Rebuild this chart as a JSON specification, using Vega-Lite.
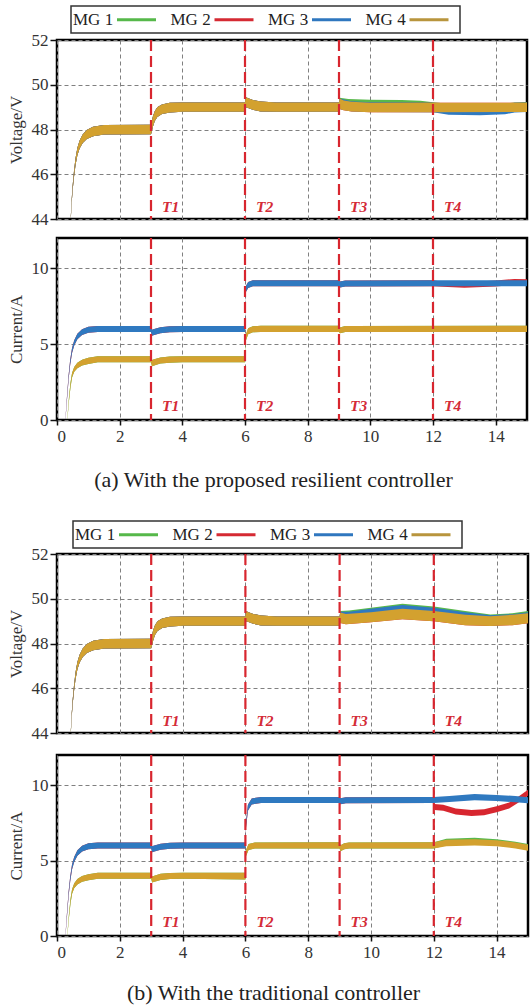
{
"$schema": "https://vega.github.io/schema/vega-lite/v6.json",
"background": "white",
"padding": {"left": 5, "top": 4, "right": 0, "bottom": 0},
"config": {
  "font": "Liberation Serif",
  "view": {"stroke": "#000", "strokeWidth": 2.5},
  "axis": {"domain": false, "grid": true, "gridColor": "#808080", "gridDash": [4, 3], "gridWidth": 1, "tickColor": "#111", "tickWidth": 1.5, "labelFont": "Liberation Serif", "labelFontSize": 17, "labelColor": "#333", "titleFont": "Liberation Serif", "titleFontSize": 17, "titleFontWeight": "normal", "titleColor": "#333"},
  "axisX": {"tickSize": 5, "labelPadding": 3},
  "axisY": {"tickSize": 7, "labelPadding": 2, "titlePadding": 6},
  "legend": {"orient": "none", "direction": "horizontal", "columns": 4, "symbolType": "M-3,0H3", "symbolSize": 169, "symbolStrokeWidth": 3, "symbolOffset": 52, "labelOffset": -72, "columnPadding": 8.5, "padding": 5, "strokeColor": "#333", "fillColor": "#fff", "labelFont": "Liberation Serif", "labelFontSize": 17, "labelColor": "#222"}
},
"datasets": {
"va": [
{"s":"MG 1","t":0.44,"lo":44.0,"hi":44.1},{"s":"MG 1","t":0.47,"lo":44.75,"hi":44.9},{"s":"MG 1","t":0.5,"lo":45.3,"hi":45.5},{"s":"MG 1","t":0.54,"lo":45.85,"hi":46.1},{"s":"MG 1","t":0.59,"lo":46.4,"hi":46.7},{"s":"MG 1","t":0.65,"lo":46.85,"hi":47.17},{"s":"MG 1","t":0.72,"lo":47.15,"hi":47.5},{"s":"MG 1","t":0.82,"lo":47.4,"hi":47.78},{"s":"MG 1","t":0.95,"lo":47.58,"hi":47.98},{"s":"MG 1","t":1.15,"lo":47.7,"hi":48.12},{"s":"MG 1","t":1.5,"lo":47.78,"hi":48.2},{"s":"MG 1","t":3.0,"lo":47.79,"hi":48.21},{"s":"MG 1","t":3.02,"lo":47.88,"hi":48.32},{"s":"MG 1","t":3.06,"lo":48.12,"hi":48.58},{"s":"MG 1","t":3.12,"lo":48.38,"hi":48.82},{"s":"MG 1","t":3.2,"lo":48.56,"hi":49.0},{"s":"MG 1","t":3.35,"lo":48.69,"hi":49.12},{"s":"MG 1","t":3.6,"lo":48.76,"hi":49.19},{"s":"MG 1","t":4.0,"lo":48.79,"hi":49.21},{"s":"MG 1","t":6.0,"lo":48.79,"hi":49.21},{"s":"MG 1","t":6.02,"lo":49.0,"hi":49.45},{"s":"MG 1","t":6.1,"lo":48.96,"hi":49.4},{"s":"MG 1","t":6.25,"lo":48.88,"hi":49.32},{"s":"MG 1","t":6.5,"lo":48.81,"hi":49.25},{"s":"MG 1","t":7.0,"lo":48.79,"hi":49.21},{"s":"MG 1","t":9.0,"lo":48.79,"hi":49.21},
{"s":"MG 1","t":9.02,"lo":48.98,"hi":49.42},{"s":"MG 1","t":9.3,"lo":48.92,"hi":49.36},{"s":"MG 1","t":10.0,"lo":48.9,"hi":49.33},{"s":"MG 1","t":11.0,"lo":48.88,"hi":49.32},{"s":"MG 1","t":11.6,"lo":48.84,"hi":49.28},{"s":"MG 1","t":12.0,"lo":48.8,"hi":49.22},{"s":"MG 1","t":12.5,"lo":48.7,"hi":49.15},{"s":"MG 1","t":13.5,"lo":48.68,"hi":49.12},{"s":"MG 1","t":14.3,"lo":48.72,"hi":49.15},{"s":"MG 1","t":14.6,"lo":48.78,"hi":49.21},{"s":"MG 1","t":15.0,"lo":48.79,"hi":49.23},
{"s":"MG 2","t":0.44,"lo":44.0,"hi":44.1},{"s":"MG 2","t":0.47,"lo":44.75,"hi":44.9},{"s":"MG 2","t":0.5,"lo":45.3,"hi":45.5},{"s":"MG 2","t":0.54,"lo":45.85,"hi":46.1},{"s":"MG 2","t":0.59,"lo":46.4,"hi":46.7},{"s":"MG 2","t":0.65,"lo":46.85,"hi":47.17},{"s":"MG 2","t":0.72,"lo":47.15,"hi":47.5},{"s":"MG 2","t":0.82,"lo":47.4,"hi":47.78},{"s":"MG 2","t":0.95,"lo":47.58,"hi":47.98},{"s":"MG 2","t":1.15,"lo":47.7,"hi":48.12},{"s":"MG 2","t":1.5,"lo":47.78,"hi":48.2},{"s":"MG 2","t":3.0,"lo":47.79,"hi":48.21},{"s":"MG 2","t":3.02,"lo":47.88,"hi":48.32},{"s":"MG 2","t":3.06,"lo":48.12,"hi":48.58},{"s":"MG 2","t":3.12,"lo":48.38,"hi":48.82},{"s":"MG 2","t":3.2,"lo":48.56,"hi":49.0},{"s":"MG 2","t":3.35,"lo":48.69,"hi":49.12},{"s":"MG 2","t":3.6,"lo":48.76,"hi":49.19},{"s":"MG 2","t":4.0,"lo":48.79,"hi":49.21},{"s":"MG 2","t":6.0,"lo":48.79,"hi":49.21},{"s":"MG 2","t":6.02,"lo":49.0,"hi":49.45},{"s":"MG 2","t":6.1,"lo":48.96,"hi":49.4},{"s":"MG 2","t":6.25,"lo":48.88,"hi":49.32},{"s":"MG 2","t":6.5,"lo":48.81,"hi":49.25},{"s":"MG 2","t":7.0,"lo":48.79,"hi":49.21},{"s":"MG 2","t":9.0,"lo":48.79,"hi":49.21},
{"s":"MG 2","t":9.02,"lo":48.92,"hi":49.38},{"s":"MG 2","t":9.15,"lo":48.86,"hi":49.3},{"s":"MG 2","t":9.4,"lo":48.8,"hi":49.24},{"s":"MG 2","t":10.0,"lo":48.77,"hi":49.2},{"s":"MG 2","t":12.0,"lo":48.77,"hi":49.2},{"s":"MG 2","t":15.0,"lo":48.78,"hi":49.2},
{"s":"MG 3","t":0.44,"lo":44.0,"hi":44.1},{"s":"MG 3","t":0.47,"lo":44.75,"hi":44.9},{"s":"MG 3","t":0.5,"lo":45.3,"hi":45.5},{"s":"MG 3","t":0.54,"lo":45.85,"hi":46.1},{"s":"MG 3","t":0.59,"lo":46.4,"hi":46.7},{"s":"MG 3","t":0.65,"lo":46.85,"hi":47.17},{"s":"MG 3","t":0.72,"lo":47.15,"hi":47.5},{"s":"MG 3","t":0.82,"lo":47.4,"hi":47.78},{"s":"MG 3","t":0.95,"lo":47.58,"hi":47.98},{"s":"MG 3","t":1.15,"lo":47.7,"hi":48.12},{"s":"MG 3","t":1.5,"lo":47.78,"hi":48.2},{"s":"MG 3","t":3.0,"lo":47.79,"hi":48.21},{"s":"MG 3","t":3.02,"lo":47.88,"hi":48.32},{"s":"MG 3","t":3.06,"lo":48.12,"hi":48.58},{"s":"MG 3","t":3.12,"lo":48.38,"hi":48.82},{"s":"MG 3","t":3.2,"lo":48.56,"hi":49.0},{"s":"MG 3","t":3.35,"lo":48.69,"hi":49.12},{"s":"MG 3","t":3.6,"lo":48.76,"hi":49.19},{"s":"MG 3","t":4.0,"lo":48.79,"hi":49.21},{"s":"MG 3","t":6.0,"lo":48.79,"hi":49.21},{"s":"MG 3","t":6.02,"lo":49.0,"hi":49.45},{"s":"MG 3","t":6.1,"lo":48.96,"hi":49.4},{"s":"MG 3","t":6.25,"lo":48.88,"hi":49.32},{"s":"MG 3","t":6.5,"lo":48.81,"hi":49.25},{"s":"MG 3","t":7.0,"lo":48.79,"hi":49.21},{"s":"MG 3","t":9.0,"lo":48.79,"hi":49.21},
{"s":"MG 3","t":9.02,"lo":48.92,"hi":49.38},{"s":"MG 3","t":9.4,"lo":48.82,"hi":49.26},{"s":"MG 3","t":10.0,"lo":48.78,"hi":49.22},{"s":"MG 3","t":12.0,"lo":48.77,"hi":49.2},{"s":"MG 3","t":12.5,"lo":48.66,"hi":49.1},{"s":"MG 3","t":13.5,"lo":48.64,"hi":49.08},{"s":"MG 3","t":14.3,"lo":48.68,"hi":49.1},{"s":"MG 3","t":14.6,"lo":48.76,"hi":49.2},{"s":"MG 3","t":15.0,"lo":48.78,"hi":49.2},
{"s":"MG 4","t":0.44,"lo":44.0,"hi":44.1},{"s":"MG 4","t":0.47,"lo":44.75,"hi":44.9},{"s":"MG 4","t":0.5,"lo":45.3,"hi":45.5},{"s":"MG 4","t":0.54,"lo":45.85,"hi":46.1},{"s":"MG 4","t":0.59,"lo":46.4,"hi":46.7},{"s":"MG 4","t":0.65,"lo":46.85,"hi":47.17},{"s":"MG 4","t":0.72,"lo":47.15,"hi":47.5},{"s":"MG 4","t":0.82,"lo":47.4,"hi":47.78},{"s":"MG 4","t":0.95,"lo":47.58,"hi":47.98},{"s":"MG 4","t":1.15,"lo":47.7,"hi":48.12},{"s":"MG 4","t":1.5,"lo":47.78,"hi":48.2},{"s":"MG 4","t":3.0,"lo":47.79,"hi":48.21},{"s":"MG 4","t":3.02,"lo":47.88,"hi":48.32},{"s":"MG 4","t":3.06,"lo":48.12,"hi":48.58},{"s":"MG 4","t":3.12,"lo":48.38,"hi":48.82},{"s":"MG 4","t":3.2,"lo":48.56,"hi":49.0},{"s":"MG 4","t":3.35,"lo":48.69,"hi":49.12},{"s":"MG 4","t":3.6,"lo":48.76,"hi":49.19},{"s":"MG 4","t":4.0,"lo":48.79,"hi":49.21},{"s":"MG 4","t":6.0,"lo":48.79,"hi":49.21},{"s":"MG 4","t":6.02,"lo":49.0,"hi":49.45},{"s":"MG 4","t":6.1,"lo":48.96,"hi":49.4},{"s":"MG 4","t":6.25,"lo":48.88,"hi":49.32},{"s":"MG 4","t":6.5,"lo":48.81,"hi":49.25},{"s":"MG 4","t":7.0,"lo":48.79,"hi":49.21},{"s":"MG 4","t":9.0,"lo":48.79,"hi":49.21},
{"s":"MG 4","t":9.02,"lo":48.92,"hi":49.38},{"s":"MG 4","t":9.15,"lo":48.86,"hi":49.3},{"s":"MG 4","t":9.4,"lo":48.8,"hi":49.24},{"s":"MG 4","t":10.0,"lo":48.77,"hi":49.2},{"s":"MG 4","t":12.0,"lo":48.77,"hi":49.2},{"s":"MG 4","t":15.0,"lo":48.78,"hi":49.2}
],
"vb": [
{"s":"MG 1","t":0.44,"lo":44.0,"hi":44.1},{"s":"MG 1","t":0.47,"lo":44.75,"hi":44.9},{"s":"MG 1","t":0.5,"lo":45.3,"hi":45.5},{"s":"MG 1","t":0.54,"lo":45.85,"hi":46.1},{"s":"MG 1","t":0.59,"lo":46.4,"hi":46.7},{"s":"MG 1","t":0.65,"lo":46.85,"hi":47.17},{"s":"MG 1","t":0.72,"lo":47.15,"hi":47.5},{"s":"MG 1","t":0.82,"lo":47.4,"hi":47.78},{"s":"MG 1","t":0.95,"lo":47.58,"hi":47.98},{"s":"MG 1","t":1.15,"lo":47.7,"hi":48.12},{"s":"MG 1","t":1.5,"lo":47.78,"hi":48.2},{"s":"MG 1","t":3.0,"lo":47.79,"hi":48.21},{"s":"MG 1","t":3.02,"lo":47.88,"hi":48.32},{"s":"MG 1","t":3.06,"lo":48.12,"hi":48.58},{"s":"MG 1","t":3.12,"lo":48.38,"hi":48.82},{"s":"MG 1","t":3.2,"lo":48.56,"hi":49.0},{"s":"MG 1","t":3.35,"lo":48.69,"hi":49.12},{"s":"MG 1","t":3.6,"lo":48.76,"hi":49.19},{"s":"MG 1","t":4.0,"lo":48.79,"hi":49.21},{"s":"MG 1","t":6.0,"lo":48.79,"hi":49.21},{"s":"MG 1","t":6.02,"lo":49.0,"hi":49.45},{"s":"MG 1","t":6.1,"lo":48.96,"hi":49.4},{"s":"MG 1","t":6.25,"lo":48.88,"hi":49.32},{"s":"MG 1","t":6.5,"lo":48.81,"hi":49.25},{"s":"MG 1","t":7.0,"lo":48.79,"hi":49.21},{"s":"MG 1","t":9.0,"lo":48.79,"hi":49.21},
{"s":"MG 1","t":9.02,"lo":49.0,"hi":49.45},{"s":"MG 1","t":9.3,"lo":49.02,"hi":49.47},{"s":"MG 1","t":10.0,"lo":49.12,"hi":49.6},{"s":"MG 1","t":11.0,"lo":49.3,"hi":49.78},{"s":"MG 1","t":12.0,"lo":49.2,"hi":49.65},{"s":"MG 1","t":13.0,"lo":49.0,"hi":49.45},{"s":"MG 1","t":13.8,"lo":48.85,"hi":49.3},{"s":"MG 1","t":14.5,"lo":48.9,"hi":49.35},{"s":"MG 1","t":15.0,"lo":49.0,"hi":49.45},
{"s":"MG 2","t":0.44,"lo":44.0,"hi":44.1},{"s":"MG 2","t":0.47,"lo":44.75,"hi":44.9},{"s":"MG 2","t":0.5,"lo":45.3,"hi":45.5},{"s":"MG 2","t":0.54,"lo":45.85,"hi":46.1},{"s":"MG 2","t":0.59,"lo":46.4,"hi":46.7},{"s":"MG 2","t":0.65,"lo":46.85,"hi":47.17},{"s":"MG 2","t":0.72,"lo":47.15,"hi":47.5},{"s":"MG 2","t":0.82,"lo":47.4,"hi":47.78},{"s":"MG 2","t":0.95,"lo":47.58,"hi":47.98},{"s":"MG 2","t":1.15,"lo":47.7,"hi":48.12},{"s":"MG 2","t":1.5,"lo":47.78,"hi":48.2},{"s":"MG 2","t":3.0,"lo":47.79,"hi":48.21},{"s":"MG 2","t":3.02,"lo":47.88,"hi":48.32},{"s":"MG 2","t":3.06,"lo":48.12,"hi":48.58},{"s":"MG 2","t":3.12,"lo":48.38,"hi":48.82},{"s":"MG 2","t":3.2,"lo":48.56,"hi":49.0},{"s":"MG 2","t":3.35,"lo":48.69,"hi":49.12},{"s":"MG 2","t":3.6,"lo":48.76,"hi":49.19},{"s":"MG 2","t":4.0,"lo":48.79,"hi":49.21},{"s":"MG 2","t":6.0,"lo":48.79,"hi":49.21},{"s":"MG 2","t":6.02,"lo":49.0,"hi":49.45},{"s":"MG 2","t":6.1,"lo":48.96,"hi":49.4},{"s":"MG 2","t":6.25,"lo":48.88,"hi":49.32},{"s":"MG 2","t":6.5,"lo":48.81,"hi":49.25},{"s":"MG 2","t":7.0,"lo":48.79,"hi":49.21},{"s":"MG 2","t":9.0,"lo":48.79,"hi":49.21},
{"s":"MG 2","t":9.02,"lo":48.92,"hi":49.38},{"s":"MG 2","t":9.2,"lo":48.86,"hi":49.32},{"s":"MG 2","t":10.0,"lo":48.95,"hi":49.4},{"s":"MG 2","t":11.0,"lo":49.08,"hi":49.55},{"s":"MG 2","t":12.0,"lo":49.0,"hi":49.45},{"s":"MG 2","t":13.0,"lo":48.82,"hi":49.28},{"s":"MG 2","t":13.8,"lo":48.78,"hi":49.22},{"s":"MG 2","t":14.5,"lo":48.82,"hi":49.28},{"s":"MG 2","t":15.0,"lo":48.9,"hi":49.35},
{"s":"MG 3","t":0.44,"lo":44.0,"hi":44.1},{"s":"MG 3","t":0.47,"lo":44.75,"hi":44.9},{"s":"MG 3","t":0.5,"lo":45.3,"hi":45.5},{"s":"MG 3","t":0.54,"lo":45.85,"hi":46.1},{"s":"MG 3","t":0.59,"lo":46.4,"hi":46.7},{"s":"MG 3","t":0.65,"lo":46.85,"hi":47.17},{"s":"MG 3","t":0.72,"lo":47.15,"hi":47.5},{"s":"MG 3","t":0.82,"lo":47.4,"hi":47.78},{"s":"MG 3","t":0.95,"lo":47.58,"hi":47.98},{"s":"MG 3","t":1.15,"lo":47.7,"hi":48.12},{"s":"MG 3","t":1.5,"lo":47.78,"hi":48.2},{"s":"MG 3","t":3.0,"lo":47.79,"hi":48.21},{"s":"MG 3","t":3.02,"lo":47.88,"hi":48.32},{"s":"MG 3","t":3.06,"lo":48.12,"hi":48.58},{"s":"MG 3","t":3.12,"lo":48.38,"hi":48.82},{"s":"MG 3","t":3.2,"lo":48.56,"hi":49.0},{"s":"MG 3","t":3.35,"lo":48.69,"hi":49.12},{"s":"MG 3","t":3.6,"lo":48.76,"hi":49.19},{"s":"MG 3","t":4.0,"lo":48.79,"hi":49.21},{"s":"MG 3","t":6.0,"lo":48.79,"hi":49.21},{"s":"MG 3","t":6.02,"lo":49.0,"hi":49.45},{"s":"MG 3","t":6.1,"lo":48.96,"hi":49.4},{"s":"MG 3","t":6.25,"lo":48.88,"hi":49.32},{"s":"MG 3","t":6.5,"lo":48.81,"hi":49.25},{"s":"MG 3","t":7.0,"lo":48.79,"hi":49.21},{"s":"MG 3","t":9.0,"lo":48.79,"hi":49.21},
{"s":"MG 3","t":9.02,"lo":48.98,"hi":49.42},{"s":"MG 3","t":9.3,"lo":48.98,"hi":49.42},{"s":"MG 3","t":10.0,"lo":49.08,"hi":49.55},{"s":"MG 3","t":11.0,"lo":49.25,"hi":49.72},{"s":"MG 3","t":12.0,"lo":49.15,"hi":49.6},{"s":"MG 3","t":13.0,"lo":48.95,"hi":49.4},{"s":"MG 3","t":13.8,"lo":48.8,"hi":49.26},{"s":"MG 3","t":14.5,"lo":48.86,"hi":49.31},{"s":"MG 3","t":15.0,"lo":48.96,"hi":49.4},
{"s":"MG 4","t":0.44,"lo":44.0,"hi":44.1},{"s":"MG 4","t":0.47,"lo":44.75,"hi":44.9},{"s":"MG 4","t":0.5,"lo":45.3,"hi":45.5},{"s":"MG 4","t":0.54,"lo":45.85,"hi":46.1},{"s":"MG 4","t":0.59,"lo":46.4,"hi":46.7},{"s":"MG 4","t":0.65,"lo":46.85,"hi":47.17},{"s":"MG 4","t":0.72,"lo":47.15,"hi":47.5},{"s":"MG 4","t":0.82,"lo":47.4,"hi":47.78},{"s":"MG 4","t":0.95,"lo":47.58,"hi":47.98},{"s":"MG 4","t":1.15,"lo":47.7,"hi":48.12},{"s":"MG 4","t":1.5,"lo":47.78,"hi":48.2},{"s":"MG 4","t":3.0,"lo":47.79,"hi":48.21},{"s":"MG 4","t":3.02,"lo":47.88,"hi":48.32},{"s":"MG 4","t":3.06,"lo":48.12,"hi":48.58},{"s":"MG 4","t":3.12,"lo":48.38,"hi":48.82},{"s":"MG 4","t":3.2,"lo":48.56,"hi":49.0},{"s":"MG 4","t":3.35,"lo":48.69,"hi":49.12},{"s":"MG 4","t":3.6,"lo":48.76,"hi":49.19},{"s":"MG 4","t":4.0,"lo":48.79,"hi":49.21},{"s":"MG 4","t":6.0,"lo":48.79,"hi":49.21},{"s":"MG 4","t":6.02,"lo":49.0,"hi":49.45},{"s":"MG 4","t":6.1,"lo":48.96,"hi":49.4},{"s":"MG 4","t":6.25,"lo":48.88,"hi":49.32},{"s":"MG 4","t":6.5,"lo":48.81,"hi":49.25},{"s":"MG 4","t":7.0,"lo":48.79,"hi":49.21},{"s":"MG 4","t":9.0,"lo":48.79,"hi":49.21},
{"s":"MG 4","t":9.02,"lo":48.92,"hi":49.38},{"s":"MG 4","t":9.2,"lo":48.86,"hi":49.32},{"s":"MG 4","t":10.0,"lo":48.95,"hi":49.4},{"s":"MG 4","t":11.0,"lo":49.08,"hi":49.55},{"s":"MG 4","t":12.0,"lo":49.0,"hi":49.45},{"s":"MG 4","t":13.0,"lo":48.82,"hi":49.28},{"s":"MG 4","t":13.8,"lo":48.78,"hi":49.22},{"s":"MG 4","t":14.5,"lo":48.82,"hi":49.28},{"s":"MG 4","t":15.0,"lo":48.9,"hi":49.35}
],
"ia": [
{"s":"MG 1","t":0.33,"lo":0.0,"hi":0.1},{"s":"MG 1","t":0.38,"lo":1.2,"hi":1.45},{"s":"MG 1","t":0.43,"lo":2.15,"hi":2.45},{"s":"MG 1","t":0.48,"lo":2.8,"hi":3.1},{"s":"MG 1","t":0.55,"lo":3.18,"hi":3.5},{"s":"MG 1","t":0.65,"lo":3.42,"hi":3.78},{"s":"MG 1","t":0.8,"lo":3.6,"hi":3.98},{"s":"MG 1","t":1.0,"lo":3.7,"hi":4.1},{"s":"MG 1","t":1.3,"lo":3.8,"hi":4.2},{"s":"MG 1","t":3.0,"lo":3.8,"hi":4.2},{"s":"MG 1","t":3.03,"lo":3.55,"hi":3.95},{"s":"MG 1","t":3.1,"lo":3.6,"hi":4.0},{"s":"MG 1","t":3.3,"lo":3.72,"hi":4.12},{"s":"MG 1","t":3.6,"lo":3.78,"hi":4.18},{"s":"MG 1","t":4.0,"lo":3.8,"hi":4.2},{"s":"MG 1","t":6.0,"lo":3.8,"hi":4.2},{"s":"MG 1","t":6.02,"lo":5.2,"hi":5.6},{"s":"MG 1","t":6.1,"lo":5.65,"hi":6.05},{"s":"MG 1","t":6.25,"lo":5.78,"hi":6.18},{"s":"MG 1","t":6.5,"lo":5.8,"hi":6.22},{"s":"MG 1","t":9.0,"lo":5.8,"hi":6.22},{"s":"MG 1","t":9.03,"lo":5.72,"hi":6.1},{"s":"MG 1","t":9.2,"lo":5.8,"hi":6.2},{"s":"MG 1","t":15.0,"lo":5.8,"hi":6.22},
{"s":"MG 2","t":0.27,"lo":0.0,"hi":0.1},{"s":"MG 2","t":0.32,"lo":1.35,"hi":1.6},{"s":"MG 2","t":0.37,"lo":2.65,"hi":2.95},{"s":"MG 2","t":0.42,"lo":3.62,"hi":3.95},{"s":"MG 2","t":0.48,"lo":4.42,"hi":4.75},{"s":"MG 2","t":0.55,"lo":4.92,"hi":5.26},{"s":"MG 2","t":0.65,"lo":5.32,"hi":5.68},{"s":"MG 2","t":0.8,"lo":5.6,"hi":5.98},{"s":"MG 2","t":1.0,"lo":5.75,"hi":6.15},{"s":"MG 2","t":1.3,"lo":5.8,"hi":6.2},{"s":"MG 2","t":3.0,"lo":5.8,"hi":6.2},{"s":"MG 2","t":3.03,"lo":5.55,"hi":5.95},{"s":"MG 2","t":3.1,"lo":5.6,"hi":6.0},{"s":"MG 2","t":3.3,"lo":5.72,"hi":6.12},{"s":"MG 2","t":3.6,"lo":5.78,"hi":6.18},{"s":"MG 2","t":4.0,"lo":5.8,"hi":6.2},{"s":"MG 2","t":6.0,"lo":5.8,"hi":6.2},{"s":"MG 2","t":6.02,"lo":8.4,"hi":8.8},{"s":"MG 2","t":6.1,"lo":8.7,"hi":9.1},{"s":"MG 2","t":6.25,"lo":8.82,"hi":9.22},{"s":"MG 2","t":9.0,"lo":8.82,"hi":9.22},{"s":"MG 2","t":9.03,"lo":8.74,"hi":9.14},{"s":"MG 2","t":9.2,"lo":8.8,"hi":9.2},{"s":"MG 2","t":12.0,"lo":8.82,"hi":9.22},{"s":"MG 2","t":12.3,"lo":8.78,"hi":9.12},{"s":"MG 2","t":13.0,"lo":8.72,"hi":9.08},{"s":"MG 2","t":14.0,"lo":8.8,"hi":9.2},{"s":"MG 2","t":14.6,"lo":8.92,"hi":9.3},{"s":"MG 2","t":15.0,"lo":8.9,"hi":9.28},
{"s":"MG 3","t":0.27,"lo":0.0,"hi":0.1},{"s":"MG 3","t":0.32,"lo":1.35,"hi":1.6},{"s":"MG 3","t":0.37,"lo":2.65,"hi":2.95},{"s":"MG 3","t":0.42,"lo":3.62,"hi":3.95},{"s":"MG 3","t":0.48,"lo":4.42,"hi":4.75},{"s":"MG 3","t":0.55,"lo":4.92,"hi":5.26},{"s":"MG 3","t":0.65,"lo":5.32,"hi":5.68},{"s":"MG 3","t":0.8,"lo":5.6,"hi":5.98},{"s":"MG 3","t":1.0,"lo":5.75,"hi":6.15},{"s":"MG 3","t":1.3,"lo":5.8,"hi":6.2},{"s":"MG 3","t":3.0,"lo":5.8,"hi":6.2},{"s":"MG 3","t":3.03,"lo":5.55,"hi":5.95},{"s":"MG 3","t":3.1,"lo":5.6,"hi":6.0},{"s":"MG 3","t":3.3,"lo":5.72,"hi":6.12},{"s":"MG 3","t":3.6,"lo":5.78,"hi":6.18},{"s":"MG 3","t":4.0,"lo":5.8,"hi":6.2},{"s":"MG 3","t":6.0,"lo":5.8,"hi":6.2},{"s":"MG 3","t":6.02,"lo":8.4,"hi":8.8},{"s":"MG 3","t":6.1,"lo":8.7,"hi":9.1},{"s":"MG 3","t":6.25,"lo":8.82,"hi":9.22},{"s":"MG 3","t":9.0,"lo":8.82,"hi":9.22},{"s":"MG 3","t":9.03,"lo":8.74,"hi":9.14},{"s":"MG 3","t":9.2,"lo":8.8,"hi":9.2},{"s":"MG 3","t":12.0,"lo":8.82,"hi":9.22},{"s":"MG 3","t":15.0,"lo":8.82,"hi":9.22},
{"s":"MG 4","t":0.33,"lo":0.0,"hi":0.1},{"s":"MG 4","t":0.38,"lo":1.2,"hi":1.45},{"s":"MG 4","t":0.43,"lo":2.15,"hi":2.45},{"s":"MG 4","t":0.48,"lo":2.8,"hi":3.1},{"s":"MG 4","t":0.55,"lo":3.18,"hi":3.5},{"s":"MG 4","t":0.65,"lo":3.42,"hi":3.78},{"s":"MG 4","t":0.8,"lo":3.6,"hi":3.98},{"s":"MG 4","t":1.0,"lo":3.7,"hi":4.1},{"s":"MG 4","t":1.3,"lo":3.8,"hi":4.2},{"s":"MG 4","t":3.0,"lo":3.8,"hi":4.2},{"s":"MG 4","t":3.03,"lo":3.55,"hi":3.95},{"s":"MG 4","t":3.1,"lo":3.6,"hi":4.0},{"s":"MG 4","t":3.3,"lo":3.72,"hi":4.12},{"s":"MG 4","t":3.6,"lo":3.78,"hi":4.18},{"s":"MG 4","t":4.0,"lo":3.8,"hi":4.2},{"s":"MG 4","t":6.0,"lo":3.8,"hi":4.2},{"s":"MG 4","t":6.02,"lo":5.2,"hi":5.6},{"s":"MG 4","t":6.1,"lo":5.65,"hi":6.05},{"s":"MG 4","t":6.25,"lo":5.78,"hi":6.18},{"s":"MG 4","t":6.5,"lo":5.8,"hi":6.22},{"s":"MG 4","t":9.0,"lo":5.8,"hi":6.22},{"s":"MG 4","t":9.03,"lo":5.72,"hi":6.1},{"s":"MG 4","t":9.2,"lo":5.8,"hi":6.2},{"s":"MG 4","t":15.0,"lo":5.8,"hi":6.22}
],
"ib": [
{"s":"MG 1","t":0.33,"lo":0.0,"hi":0.1},{"s":"MG 1","t":0.38,"lo":1.2,"hi":1.45},{"s":"MG 1","t":0.43,"lo":2.15,"hi":2.45},{"s":"MG 1","t":0.48,"lo":2.8,"hi":3.1},{"s":"MG 1","t":0.55,"lo":3.18,"hi":3.5},{"s":"MG 1","t":0.65,"lo":3.42,"hi":3.78},{"s":"MG 1","t":0.8,"lo":3.6,"hi":3.98},{"s":"MG 1","t":1.0,"lo":3.7,"hi":4.1},{"s":"MG 1","t":1.3,"lo":3.8,"hi":4.2},{"s":"MG 1","t":3.0,"lo":3.8,"hi":4.2},{"s":"MG 1","t":3.03,"lo":3.55,"hi":3.95},{"s":"MG 1","t":3.1,"lo":3.6,"hi":4.0},{"s":"MG 1","t":3.3,"lo":3.72,"hi":4.12},{"s":"MG 1","t":3.6,"lo":3.78,"hi":4.18},{"s":"MG 1","t":4.0,"lo":3.8,"hi":4.2},{"s":"MG 1","t":6.0,"lo":3.75,"hi":4.2},{"s":"MG 1","t":6.02,"lo":5.3,"hi":5.7},{"s":"MG 1","t":6.1,"lo":5.7,"hi":6.1},{"s":"MG 1","t":6.3,"lo":5.8,"hi":6.2},{"s":"MG 1","t":9.0,"lo":5.8,"hi":6.22},{"s":"MG 1","t":9.03,"lo":5.62,"hi":6.02},{"s":"MG 1","t":9.15,"lo":5.75,"hi":6.15},{"s":"MG 1","t":9.3,"lo":5.8,"hi":6.2},{"s":"MG 1","t":12.0,"lo":5.8,"hi":6.22},{"s":"MG 1","t":12.4,"lo":6.02,"hi":6.45},{"s":"MG 1","t":13.3,"lo":6.08,"hi":6.52},{"s":"MG 1","t":14.0,"lo":6.0,"hi":6.42},{"s":"MG 1","t":14.6,"lo":5.85,"hi":6.25},{"s":"MG 1","t":15.0,"lo":5.7,"hi":6.1},
{"s":"MG 2","t":0.27,"lo":0.0,"hi":0.1},{"s":"MG 2","t":0.32,"lo":1.35,"hi":1.6},{"s":"MG 2","t":0.37,"lo":2.65,"hi":2.95},{"s":"MG 2","t":0.42,"lo":3.62,"hi":3.95},{"s":"MG 2","t":0.48,"lo":4.42,"hi":4.75},{"s":"MG 2","t":0.55,"lo":4.92,"hi":5.26},{"s":"MG 2","t":0.65,"lo":5.32,"hi":5.68},{"s":"MG 2","t":0.8,"lo":5.6,"hi":5.98},{"s":"MG 2","t":1.0,"lo":5.75,"hi":6.15},{"s":"MG 2","t":1.3,"lo":5.8,"hi":6.2},{"s":"MG 2","t":3.0,"lo":5.8,"hi":6.2},{"s":"MG 2","t":3.03,"lo":5.55,"hi":5.95},{"s":"MG 2","t":3.1,"lo":5.6,"hi":6.0},{"s":"MG 2","t":3.3,"lo":5.72,"hi":6.12},{"s":"MG 2","t":3.6,"lo":5.78,"hi":6.18},{"s":"MG 2","t":4.0,"lo":5.8,"hi":6.2},{"s":"MG 2","t":6.0,"lo":5.8,"hi":6.2},{"s":"MG 2","t":6.02,"lo":7.2,"hi":7.6},{"s":"MG 2","t":6.08,"lo":8.3,"hi":8.7},{"s":"MG 2","t":6.2,"lo":8.72,"hi":9.12},{"s":"MG 2","t":6.5,"lo":8.82,"hi":9.22},{"s":"MG 2","t":9.0,"lo":8.82,"hi":9.22},{"s":"MG 2","t":9.03,"lo":8.74,"hi":9.14},{"s":"MG 2","t":9.2,"lo":8.8,"hi":9.2},{"s":"MG 2","t":12.0,"lo":8.82,"hi":9.22},{"s":"MG 2","t":12.02,"lo":8.35,"hi":8.75},{"s":"MG 2","t":12.3,"lo":8.3,"hi":8.7},{"s":"MG 2","t":12.7,"lo":8.05,"hi":8.45},{"s":"MG 2","t":13.2,"lo":7.95,"hi":8.35},{"s":"MG 2","t":13.6,"lo":8.0,"hi":8.4},{"s":"MG 2","t":14.0,"lo":8.2,"hi":8.6},{"s":"MG 2","t":14.4,"lo":8.45,"hi":8.85},{"s":"MG 2","t":14.7,"lo":8.85,"hi":9.25},{"s":"MG 2","t":15.0,"lo":9.3,"hi":9.7},
{"s":"MG 3","t":0.27,"lo":0.0,"hi":0.1},{"s":"MG 3","t":0.32,"lo":1.35,"hi":1.6},{"s":"MG 3","t":0.37,"lo":2.65,"hi":2.95},{"s":"MG 3","t":0.42,"lo":3.62,"hi":3.95},{"s":"MG 3","t":0.48,"lo":4.42,"hi":4.75},{"s":"MG 3","t":0.55,"lo":4.92,"hi":5.26},{"s":"MG 3","t":0.65,"lo":5.32,"hi":5.68},{"s":"MG 3","t":0.8,"lo":5.6,"hi":5.98},{"s":"MG 3","t":1.0,"lo":5.75,"hi":6.15},{"s":"MG 3","t":1.3,"lo":5.8,"hi":6.2},{"s":"MG 3","t":3.0,"lo":5.8,"hi":6.2},{"s":"MG 3","t":3.03,"lo":5.55,"hi":5.95},{"s":"MG 3","t":3.1,"lo":5.6,"hi":6.0},{"s":"MG 3","t":3.3,"lo":5.72,"hi":6.12},{"s":"MG 3","t":3.6,"lo":5.78,"hi":6.18},{"s":"MG 3","t":4.0,"lo":5.8,"hi":6.2},{"s":"MG 3","t":6.0,"lo":5.8,"hi":6.2},{"s":"MG 3","t":6.02,"lo":7.2,"hi":7.6},{"s":"MG 3","t":6.08,"lo":8.3,"hi":8.7},{"s":"MG 3","t":6.2,"lo":8.72,"hi":9.12},{"s":"MG 3","t":6.5,"lo":8.82,"hi":9.22},{"s":"MG 3","t":9.0,"lo":8.82,"hi":9.22},{"s":"MG 3","t":9.03,"lo":8.74,"hi":9.14},{"s":"MG 3","t":9.2,"lo":8.8,"hi":9.2},{"s":"MG 3","t":12.0,"lo":8.82,"hi":9.22},{"s":"MG 3","t":12.5,"lo":8.88,"hi":9.28},{"s":"MG 3","t":13.3,"lo":9.0,"hi":9.42},{"s":"MG 3","t":14.0,"lo":8.95,"hi":9.35},{"s":"MG 3","t":14.6,"lo":8.86,"hi":9.28},{"s":"MG 3","t":15.0,"lo":8.8,"hi":9.2},
{"s":"MG 4","t":0.33,"lo":0.0,"hi":0.1},{"s":"MG 4","t":0.38,"lo":1.2,"hi":1.45},{"s":"MG 4","t":0.43,"lo":2.15,"hi":2.45},{"s":"MG 4","t":0.48,"lo":2.8,"hi":3.1},{"s":"MG 4","t":0.55,"lo":3.18,"hi":3.5},{"s":"MG 4","t":0.65,"lo":3.42,"hi":3.78},{"s":"MG 4","t":0.8,"lo":3.6,"hi":3.98},{"s":"MG 4","t":1.0,"lo":3.7,"hi":4.1},{"s":"MG 4","t":1.3,"lo":3.8,"hi":4.2},{"s":"MG 4","t":3.0,"lo":3.8,"hi":4.2},{"s":"MG 4","t":3.03,"lo":3.55,"hi":3.95},{"s":"MG 4","t":3.1,"lo":3.6,"hi":4.0},{"s":"MG 4","t":3.3,"lo":3.72,"hi":4.12},{"s":"MG 4","t":3.6,"lo":3.78,"hi":4.18},{"s":"MG 4","t":4.0,"lo":3.8,"hi":4.2},{"s":"MG 4","t":6.0,"lo":3.75,"hi":4.2},{"s":"MG 4","t":6.02,"lo":5.3,"hi":5.7},{"s":"MG 4","t":6.1,"lo":5.7,"hi":6.1},{"s":"MG 4","t":6.3,"lo":5.8,"hi":6.2},{"s":"MG 4","t":9.0,"lo":5.8,"hi":6.22},{"s":"MG 4","t":9.03,"lo":5.62,"hi":6.02},{"s":"MG 4","t":9.15,"lo":5.75,"hi":6.15},{"s":"MG 4","t":9.3,"lo":5.8,"hi":6.2},{"s":"MG 4","t":12.0,"lo":5.8,"hi":6.22},{"s":"MG 4","t":12.4,"lo":5.95,"hi":6.38},{"s":"MG 4","t":13.3,"lo":6.0,"hi":6.42},{"s":"MG 4","t":14.0,"lo":5.95,"hi":6.35},{"s":"MG 4","t":14.6,"lo":5.8,"hi":6.2},{"s":"MG 4","t":15.0,"lo":5.65,"hi":6.05}
],
"ev": [{"t":3,"lab":"T1"},{"t":6,"lab":"T2"},{"t":9,"lab":"T3"},{"t":12,"lab":"T4"}]
},
"spacing": 27,
"resolve": {"scale": {"x": "independent", "y": "independent", "color": "independent"}, "axis": {"x": "independent", "y": "independent"}, "legend": {"color": "independent"}},
"vconcat": [
{
 "spacing": 6,
 "resolve": {"scale": {"x": "independent", "y": "independent", "color": "independent"}, "axis": {"x": "independent", "y": "independent"}, "legend": {"color": "independent"}},
 "vconcat": [
  {
   "width": 470, "height": 179,
   "layer": [
    {"data": {"name": "va"},
     "mark": {"type": "area", "clip": true},
     "encoding": {
      "x": {"field": "t", "type": "quantitative", "scale": {"domain": [0, 15], "nice": false, "zero": false}, "axis": {"values": [0,2,4,6,8,10,12,14], "labels": false, "ticks": false, "title": null}},
      "y": {"field": "lo", "type": "quantitative", "stack": null, "scale": {"domain": [44, 52], "nice": false, "zero": false}, "axis": {"values": [44,46,48,50,52], "title": "Voltage/V"}},
      "y2": {"field": "hi"},
      "color": {"field": "s", "type": "nominal", "scale": {"domain": ["MG 1","MG 2","MG 3","MG 4"], "range": ["#58b84b","#d7262f","#2f79c0","#d3a12f"]},
       "legend": {"legendX": 14, "legendY": -34, "title": null,
        "encode": {"symbols": {"update": {"stroke": {"signal": "datum.value === 'MG 1' ? '#56b84a' : datum.value === 'MG 2' ? '#d52a33' : datum.value === 'MG 3' ? '#2f77bf' : '#b8953d'"}, "strokeWidth": {"value": 3}}}, "legend": {"update": {"strokeWidth": {"value": 1.5}}}}}}
     }},
    {"data": {"name": "ev"}, "mark": {"type": "rule", "color": "#d8262f", "strokeWidth": 2.2, "strokeDash": [11, 5]}, "encoding": {"x": {"field": "t", "type": "quantitative"}}},
    {"data": {"name": "ev"}, "mark": {"type": "text", "align": "left", "baseline": "middle", "dx": 11, "font": "Liberation Serif", "fontStyle": "italic", "fontWeight": "bold", "fontSize": 15.5, "color": "#d42b37"},
     "encoding": {"x": {"field": "t", "type": "quantitative"}, "y": {"datum": 44.55, "type": "quantitative"}, "text": {"field": "lab"}}}
   ]
  },
  {
   "width": 470, "height": 182,
   "layer": [
    {"data": {"name": "ia"},
     "mark": {"type": "area", "clip": true},
     "encoding": {
      "x": {"field": "t", "type": "quantitative", "scale": {"domain": [0, 15], "nice": false, "zero": false}, "axis": {"values": [0,2,4,6,8,10,12,14], "title": "(a) With the proposed resilient controller", "titleFontSize": 22, "titleColor": "#222", "titlePadding": 25, "titleX": 216}},
      "y": {"field": "lo", "type": "quantitative", "stack": null, "scale": {"domain": [0, 12], "nice": false, "zero": false}, "axis": {"values": [0,5,10], "title": "Current/A"}},
      "y2": {"field": "hi"},
      "color": {"field": "s", "type": "nominal", "scale": {"domain": ["MG 1","MG 2","MG 3","MG 4"], "range": ["#58b84b","#d7262f","#2f79c0","#d3a12f"]}, "legend": null}
     }},
    {"data": {"name": "ev"}, "mark": {"type": "rule", "color": "#d8262f", "strokeWidth": 2.2, "strokeDash": [11, 5]}, "encoding": {"x": {"field": "t", "type": "quantitative"}}},
    {"data": {"name": "ev"}, "mark": {"type": "text", "align": "left", "baseline": "middle", "dx": 11, "font": "Liberation Serif", "fontStyle": "italic", "fontWeight": "bold", "fontSize": 15.5, "color": "#d42b37"},
     "encoding": {"x": {"field": "t", "type": "quantitative"}, "y": {"datum": 0.95, "type": "quantitative"}, "text": {"field": "lab"}}}
   ]
  }
 ]
},
{
 "spacing": 9,
 "resolve": {"scale": {"x": "independent", "y": "independent", "color": "independent"}, "axis": {"x": "independent", "y": "independent"}, "legend": {"color": "independent"}},
 "vconcat": [
  {
   "width": 471, "height": 179,
   "layer": [
    {"data": {"name": "vb"},
     "mark": {"type": "area", "clip": true},
     "encoding": {
      "x": {"field": "t", "type": "quantitative", "scale": {"domain": [0, 15], "nice": false, "zero": false}, "axis": {"values": [0,2,4,6,8,10,12,14], "labels": false, "ticks": false, "title": null}},
      "y": {"field": "lo", "type": "quantitative", "stack": null, "scale": {"domain": [44, 52], "nice": false, "zero": false}, "axis": {"values": [44,46,48,50,52], "title": "Voltage/V"}},
      "y2": {"field": "hi"},
      "color": {"field": "s", "type": "nominal", "scale": {"domain": ["MG 1","MG 2","MG 3","MG 4"], "range": ["#58b84b","#d7262f","#2f79c0","#d3a12f"]},
       "legend": {"legendX": 16, "legendY": -33, "title": null,
        "encode": {"symbols": {"update": {"stroke": {"signal": "datum.value === 'MG 1' ? '#56b84a' : datum.value === 'MG 2' ? '#d52a33' : datum.value === 'MG 3' ? '#2f77bf' : '#b8953d'"}, "strokeWidth": {"value": 3}}}, "legend": {"update": {"strokeWidth": {"value": 1.5}}}}}}
     }},
    {"data": {"name": "ev"}, "mark": {"type": "rule", "color": "#d8262f", "strokeWidth": 2.2, "strokeDash": [11, 5]}, "encoding": {"x": {"field": "t", "type": "quantitative"}}},
    {"data": {"name": "ev"}, "mark": {"type": "text", "align": "left", "baseline": "middle", "dx": 11, "font": "Liberation Serif", "fontStyle": "italic", "fontWeight": "bold", "fontSize": 15.5, "color": "#d42b37"},
     "encoding": {"x": {"field": "t", "type": "quantitative"}, "y": {"datum": 44.55, "type": "quantitative"}, "text": {"field": "lab"}}}
   ]
  },
  {
   "width": 471, "height": 181,
   "layer": [
    {"data": {"name": "ib"},
     "mark": {"type": "area", "clip": true},
     "encoding": {
      "x": {"field": "t", "type": "quantitative", "scale": {"domain": [0, 15], "nice": false, "zero": false}, "axis": {"values": [0,2,4,6,8,10,12,14], "title": "(b) With the traditional controller", "titleFontSize": 22, "titleColor": "#222", "titlePadding": 22, "titleX": 216}},
      "y": {"field": "lo", "type": "quantitative", "stack": null, "scale": {"domain": [0, 12], "nice": false, "zero": false}, "axis": {"values": [0,5,10], "title": "Current/A"}},
      "y2": {"field": "hi"},
      "color": {"field": "s", "type": "nominal", "scale": {"domain": ["MG 1","MG 2","MG 3","MG 4"], "range": ["#58b84b","#d7262f","#2f79c0","#d3a12f"]}, "legend": null}
     }},
    {"data": {"name": "ev"}, "mark": {"type": "rule", "color": "#d8262f", "strokeWidth": 2.2, "strokeDash": [11, 5]}, "encoding": {"x": {"field": "t", "type": "quantitative"}}},
    {"data": {"name": "ev"}, "mark": {"type": "text", "align": "left", "baseline": "middle", "dx": 11, "font": "Liberation Serif", "fontStyle": "italic", "fontWeight": "bold", "fontSize": 15.5, "color": "#d42b37"},
     "encoding": {"x": {"field": "t", "type": "quantitative"}, "y": {"datum": 0.95, "type": "quantitative"}, "text": {"field": "lab"}}}
   ]
  }
 ]
}
]
}
